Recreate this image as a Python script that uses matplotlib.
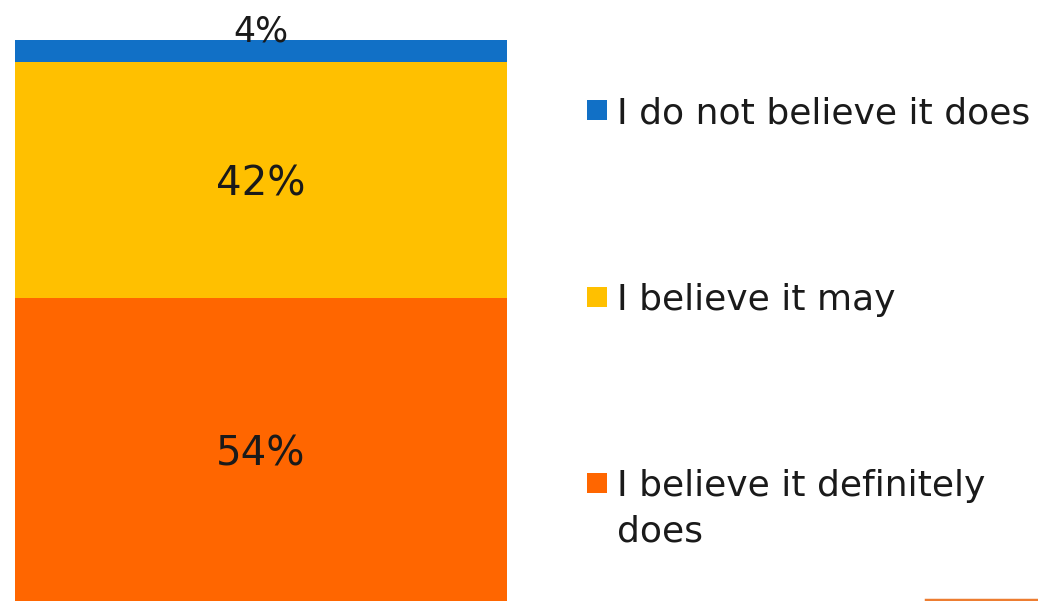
import matplotlib
matplotlib.use("Agg")
import matplotlib.pyplot as plt
from matplotlib.patches import Rectangle
from matplotlib.lines import Line2D

# stacked shares, bottom to top
categories = ["I believe it definitely\ndoes", "I believe it may", "I do not believe it does"]
shares = [54, 42, 4]
colors = ["#FF6600", "#FFC000", "#1170C6"]

plt.rcParams["font.family"] = ["DejaVu Sans"]

W, H = 1038, 601
fig = plt.figure(figsize=(W / 100, H / 100), dpi=100)
ax = fig.add_axes([15 / W, 0, 492 / W, 561 / H])

bottom = 0
for cat, val, col in zip(categories, shares, colors):
    ax.bar(0, val, bottom=bottom, width=1.0, color=col, linewidth=0)
    if val >= 10:
        ax.text(0, bottom + val / 2 - 0.8, f"{val}%", ha="center", va="center",
                fontsize=29, color="#1a1a1a")
    else:
        ax.text(0, bottom + val - 0.3, f"{val}%", ha="center", va="baseline",
                fontsize=25, color="#1a1a1a")
    bottom += val

ax.set_xlim(-0.5, 0.5)
ax.set_ylim(0, 100)
ax.axis("off")

# legend drawn by hand, top entry first; square sits on the first text line
legend_y = [483, 297, 110]
line_gap = 45
for cat, col, y in zip(categories, colors, legend_y):
    fig.patches.append(Rectangle((587 / W, (H - y - 10) / H), 20 / W, 20 / H,
                                 transform=fig.transFigure, color=col, linewidth=0))
    lines = cat.split("\n")
    for i, line in enumerate(lines):
        base = y + 13 + i * line_gap
        fig.text(617 / W, (H - base) / H, line, ha="left", va="baseline",
                 fontsize=26, color="#1a1a1a")

# thin accent line in the bottom corner
fig.lines.append(Line2D([926 / W, 1], [1.5 / H, 1.5 / H], transform=fig.transFigure,
                        color="#ED7D31", linewidth=2.5))

fig.savefig("out.png", dpi=100)
